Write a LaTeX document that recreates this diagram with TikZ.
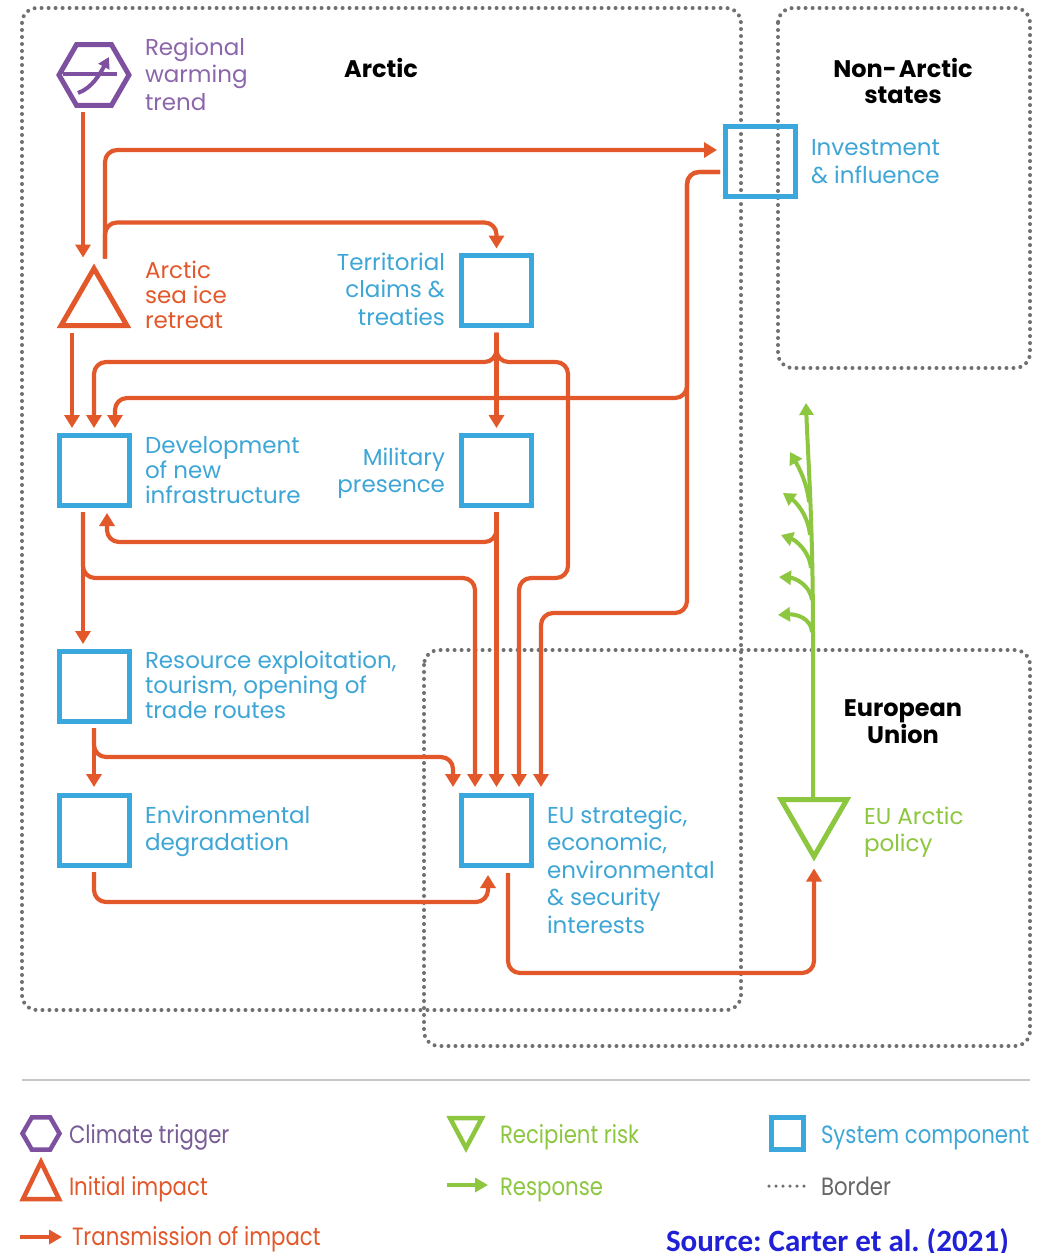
\documentclass[tikz,border=0pt]{standalone}
\usepackage{fontspec}
\setmainfont{Poppins}
\newfontfamily\legfont[FakeStretch=0.85]{Poppins}
\newfontfamily\srcfont{Carlito}
\usetikzlibrary{arrows.meta,shapes.geometric,calc}
\definecolor{corange}{RGB}{226,88,42}
\definecolor{cblue}{RGB}{58,168,221}
\definecolor{cbluetxt}{RGB}{62,166,214}
\definecolor{cpurple}{RGB}{125,80,160}
\definecolor{cpurpletxt}{RGB}{140,102,172}
\definecolor{cgreen}{RGB}{141,198,63}
\definecolor{cgray}{RGB}{112,112,112}
\definecolor{clegpurple}{RGB}{120,92,150}
\definecolor{csrc}{RGB}{32,32,214}
\frenchspacing
\begin{document}
\begin{tikzpicture}[x=1pt,y=-1pt,
  border/.style={draw=cgray, line width=4pt, line cap=round, dash pattern=on 0pt off 7pt, rounded corners=15pt},
  conn/.style={draw=corange, line width=4.2pt, rounded corners=12pt, -{Triangle[width=15pt,length=13pt]}},
  resp/.style={draw=cgreen, line width=4pt, -{Triangle[width=14pt,length=12pt]}},
  sysbox/.style={draw=cblue, line width=5pt, shape=rectangle, minimum size=70pt, inner sep=0pt, outer sep=0pt},
  trinode/.style={regular polygon, regular polygon sides=3, minimum size=76pt, inner sep=0pt, outer sep=0pt, line width=5pt, line join=miter},
  hexnode/.style={regular polygon, regular polygon sides=6, inner sep=0pt, outer sep=0pt, line join=miter},
  lab/.style={inner sep=0pt, outer sep=0pt, align=left, anchor=base west, font=\fontsize{23}{#1}\selectfont},
  labr/.style={inner sep=0pt, outer sep=0pt, align=right, anchor=base east, font=\fontsize{23}{#1}\selectfont},
  title/.style={inner sep=0pt, outer sep=0pt, align=center, anchor=base, text=black, font=\bfseries\fontsize{24}{#1}\selectfont},
  leg/.style={inner sep=0pt, outer sep=0pt, anchor=base west, font=\legfont\fontsize{25}{30}\selectfont}
]
\useasboundingbox (0,0) rectangle (1037,1253);
\fill[white] (0,0) rectangle (1037,1253);

% ---------- borders ----------
\draw[border] (22,8) rectangle (741,1010);
\draw[border] (778,8) rectangle (1030,368);
\draw[border] (424,650) rectangle (1030,1046);

% ---------- titles (anchor = baseline of last line) ----------
\node[title=26] (tarc) at (381,77) {Arctic};
\node[title=26] (tnon) at (903,103) {Non-\hspace{2pt}Arctic\\states};
\node[title=27] (teu) at (903,743) {European\\Union};

% ---------- shapes ----------
\node[hexnode, minimum size=70pt, draw=cpurple, line width=5pt] (hex) at (94,75) {};
\draw[cpurple, line width=4pt] (63,74) -- (117,74);
\draw[cpurple, line width=4pt, -{Triangle[width=12pt,length=11pt]}] (78,93) .. controls (92,88) and (100,74) .. (109,57);

\node[trinode, draw=corange] (tri) at (94,306.5) {};
\node[trinode, draw=cgreen, shape border rotate=180] (pol) at (814,818.5) {};

\node[sysbox] (inv) at (760,161) {};
\node[sysbox] (terr) at (496.5,290.5) {};
\node[sysbox] (dev) at (94,470) {};
\node[sysbox] (mil) at (496.5,470) {};
\node[sysbox] (res) at (94,686) {};
\node[sysbox] (env) at (94,830) {};
\node[sysbox] (eu) at (496.5,830) {};

% ---------- labels (anchor = baseline of last line) ----------
\node[lab=27.5, text=cpurpletxt] (lreg) at (145,110) {Regional\\warming\\trend};
\node[lab=25, text=corange] (lsea) at (145,328) {Arctic\\sea ice\\retreat};
\node[labr=27.5, text=cbluetxt] (lterr) at (445,325) {Territorial\\claims \&\\treaties};
\node[lab=28, text=cbluetxt] (linv) at (811,183) {Investment\\\& influence};
\node[lab=25, text=cbluetxt] (ldev) at (145,503) {Development\\of new\\infrastructure};
\node[labr=27, text=cbluetxt] (lmil) at (445,492) {Military\\presence};
\node[lab=25, text=cbluetxt] (lres) at (145,718) {Resource exploitation,\\tourism, opening of\\trade routes};
\node[lab=27, text=cbluetxt] (lenv) at (145,850) {Environmental\\degradation};
\node[lab=27.5, text=cbluetxt] (leu) at (547,933) {EU strategic,\\economic,\\environmental\\\& security\\interests};
\node[lab=27, text=cgreen] (lpol) at (864,851) {EU Arctic\\policy};

% ---------- connectors ----------
\draw[conn] ($(hex.south)+(-11,7)$) -- ($(tri.north)+(-11,-11)$);
\draw[conn] ($(tri.north)+(11,-10)$) |- ($(inv.west)+(-8,-11)$);
\draw[conn] ($(tri.north)+(11,-10)$) |- ($(terr.north)+(0,-33)$) -- ($(terr.north)+(0,-7)$);
\draw[conn] ($(tri.south)+(-22,7)$) -- ($(dev.north)+(-22,-7)$);
\draw[conn] ($(terr.south)+(0,7)$) -- ($(mil.north)+(0,-7)$);
\draw[conn] ($(terr.south)+(0,7)$) |- ($(dev.north)+(0,-73)$) -- ($(dev.north)+(0,-7)$);
\draw[conn] ($(terr.south)+(0,7)$) |- (568,362) -- (568,578) -| ($(eu.north)+(22.5,-8)$);
\draw[conn] ($(inv.west)+(-5,11)$) -- (687,172) -- (687,398) -| ($(dev.north)+(21,-7)$);
\draw[conn] ($(inv.west)+(-5,11)$) -- (687,172) -- (687,613) -| ($(eu.north)+(44.5,-8)$);
\draw[conn] ($(mil.south)+(0,7)$) |- (107,542) -- ($(dev.south)+(13,8)$);
\draw[conn] ($(mil.south)+(0,7)$) -- ($(eu.north)+(0,-8)$);
\draw[conn] ($(dev.south)+(-11,7)$) -- ($(res.north)+(-11,-7)$);
\draw[conn] ($(dev.south)+(-11,7)$) |- (475,578) -- ($(eu.north)+(-21.5,-8)$);
\draw[conn] ($(res.south)+(0,7)$) -- ($(env.north)+(0,-8)$);
\draw[conn] ($(res.south)+(0,7)$) |- (453,757) -- ($(eu.north)+(-43.5,-8)$);
\draw[conn] ($(env.south)+(0,7)$) |- (488,902) -- ($(eu.south)+(-8.5,10)$);
\draw[conn] ($(eu.south)+(11.5,8)$) |- (814,973) -- ($(pol.south)+(0,12)$);

% ---------- response ----------
\draw[resp] ($(pol.north)+(-1,0)$) -- (813,640) .. controls (813,520) and (808,460) .. (806,403);
\draw[resp] (809,502) .. controls (807,482) and (798,466) .. (790,452);
\draw[resp] (810,535) .. controls (808,515) and (796,502) .. (783,493);
\draw[resp] (811,568) .. controls (809,550) and (795,540) .. (781,535);
\draw[resp] (812,600) .. controls (810,585) and (795,578) .. (779,577);
\draw[resp] (812,632) .. controls (811,618) and (796,614) .. (778,615);

% ---------- legend ----------
\draw[draw=black!22, line width=2.5pt] (22,1080) -- (1030,1080);
\node[hexnode, minimum size=37pt, draw=cpurple, line width=4.5pt] (lghex) at (41,1133.5) {};
\draw[corange, line width=4.5pt, line join=miter] (23,1199) -- (41,1162) -- (59,1199) -- cycle;
\draw[corange, line width=4pt, -{Triangle[width=14pt,length=13pt]}] (20,1237) -- (62,1237);
\draw[cgreen, line width=4.5pt, line join=miter] (450,1118) -- (482,1118) -- (466,1148) -- cycle;
\draw[cgreen, line width=4pt, -{Triangle[width=14pt,length=13pt]}] (447,1185) -- (488,1185);
\node[sysbox, minimum size=32pt] (lgbox) at (787.5,1133.5) {};
\draw[draw=cgray, line width=3.5pt, line cap=round, dash pattern=on 0pt off 7pt] (769,1186) -- (805,1186);

\node[leg, text=clegpurple] (lg1) at (69,1143) {Climate trigger};
\node[leg, text=corange] (lg2) at (69,1195) {Initial impact};
\node[leg, text=corange] (lg3) at (72,1245) {Transmission of impact};
\node[leg, text=cgreen] (lg4) at (500,1143) {Recipient risk};
\node[leg, text=cgreen] (lg5) at (500,1195) {Response};
\node[leg, text=cbluetxt] (lg6) at (821,1143) {System component};
\node[leg, text=black!60] (lg7) at (821,1195) {Border};

\node[inner sep=0pt, outer sep=0pt, anchor=base west, text=csrc, font=\srcfont\bfseries\fontsize{31}{32}\selectfont] (src) at (666,1251) {Source: Carter et al. (2021)};
\end{tikzpicture}
\end{document}
